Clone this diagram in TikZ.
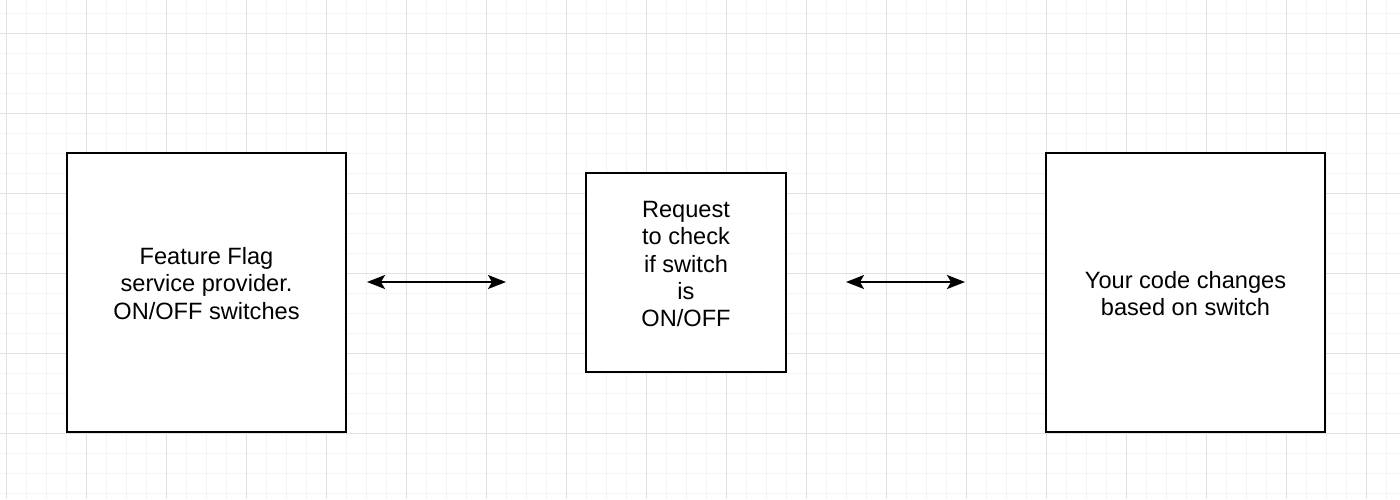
\documentclass[tikz,border=0pt]{standalone}
\usepackage{fontspec}
\setmainfont{Liberation Sans}
\usepackage{xcolor}
\usetikzlibrary{arrows.meta}

\definecolor{gridmajor}{HTML}{E2E2E2}
\definecolor{gridminor}{HTML}{F4F4F4}

\tikzset{
  flagbox/.style={draw=black, line width=1pt, fill=white, inner sep=0pt},
  flagtext/.style={align=center, font=\fontsize{11.8pt}{13.6pt}\selectfont, inner sep=0pt},
  link/.style={{Stealth[length=9pt,width=7pt,inset=2pt]}-{Stealth[length=9pt,width=7pt,inset=2pt]}, line width=0.9pt}
}

\begin{document}
\begin{tikzpicture}[x=0.5pt, y=-0.5pt]
  \useasboundingbox (0,0) rectangle (1400,499);
  \fill[white] (0,0) rectangle (1400,499);
  % grid
  \foreach \gx in {6,26,...,1400} \draw[gridminor, line width=0.5pt] (\gx,0) -- (\gx,499);
  \foreach \gy in {13,33,...,499} \draw[gridminor, line width=0.5pt] (0,\gy) -- (1400,\gy);
  \foreach \gx in {6,86,...,1400} \draw[gridmajor, line width=0.5pt] (\gx,0) -- (\gx,499);
  \foreach \gy in {33,113,...,499} \draw[gridmajor, line width=0.5pt] (0,\gy) -- (1400,\gy);

  % boxes
  \node[flagbox, minimum width=139.5pt, minimum height=139.5pt] (provider) at (206.5,292.5) {};
  \node[flagtext] (providertext) at (206.5,283.5)
    {Feature Flag\\service provider.\\ON/OFF switches};
  \node[flagbox, minimum width=100pt, minimum height=99.5pt] (request) at (686,272.5) {};
  \node[flagtext] (requesttext) at (686,264)
    {Request\\to check\\if switch\\is\\ON/OFF};
  \node[flagbox, minimum width=139.5pt, minimum height=139.5pt] (code) at (1185.5,292.5) {};
  \node[flagtext] (codetext) at (1185.5,293.5)
    {Your code changes\\based on switch};

  % arrows
  \coordinate (a1) at (367,282);
  \coordinate (a2) at (506,282);
  \coordinate (b1) at (846,282);
  \coordinate (b2) at (965,282);
  \draw[link] (a1) -- (a2);
  \draw[link] (b1) -- (b2);
\end{tikzpicture}
\end{document}
